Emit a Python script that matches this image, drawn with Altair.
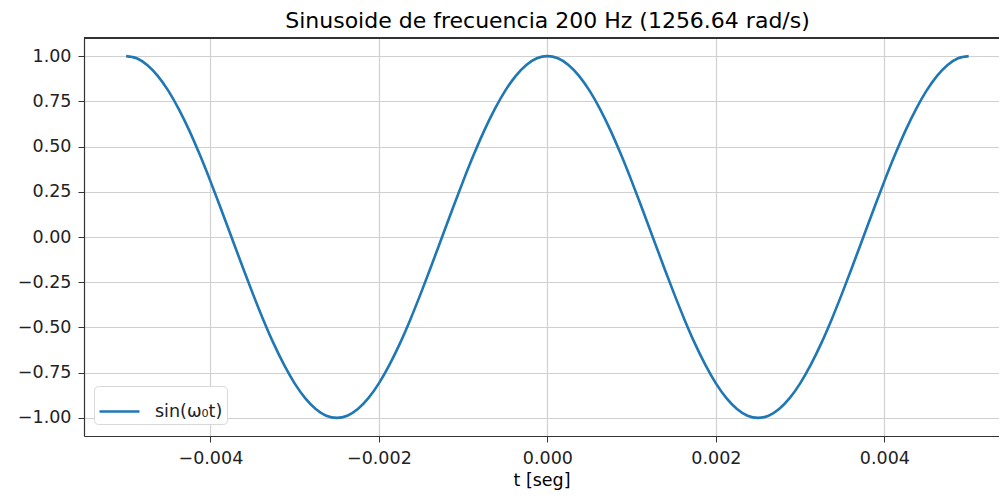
import altair as alt
import pandas as pd

# time samples [s] and values
t_values = [-0.005, -0.004875, -0.00475, -0.004625, -0.0045, -0.004375, -0.00425, -0.004125,
            -0.004, -0.003875, -0.00375, -0.003625, -0.0035, -0.003375, -0.00325, -0.003125,
            -0.003, -0.002875, -0.00275, -0.002625, -0.0025, -0.002375, -0.00225, -0.002125,
            -0.002, -0.001875, -0.00175, -0.001625, -0.0015, -0.001375, -0.00125, -0.001125,
            -0.001, -0.000875, -0.00075, -0.000625, -0.0005, -0.000375, -0.00025, -0.000125,
            0.0,
            0.000125, 0.00025, 0.000375, 0.0005, 0.000625, 0.00075, 0.000875, 0.001,
            0.001125, 0.00125, 0.001375, 0.0015, 0.001625, 0.00175, 0.001875, 0.002,
            0.002125, 0.00225, 0.002375, 0.0025, 0.002625, 0.00275, 0.002875, 0.003,
            0.003125, 0.00325, 0.003375, 0.0035, 0.003625, 0.00375, 0.003875, 0.004,
            0.004125, 0.00425, 0.004375, 0.0045, 0.004625, 0.00475, 0.004875, 0.005]
y_values = [1.000, 0.988, 0.951, 0.891, 0.809, 0.707, 0.588, 0.454, 0.309, 0.156,
            0.000, -0.156, -0.309, -0.454, -0.588, -0.707, -0.809, -0.891, -0.951, -0.988,
            -1.000,
            -0.988, -0.951, -0.891, -0.809, -0.707, -0.588, -0.454, -0.309, -0.156, 0.000,
            0.156, 0.309, 0.454, 0.588, 0.707, 0.809, 0.891, 0.951, 0.988, 1.000,
            0.988, 0.951, 0.891, 0.809, 0.707, 0.588, 0.454, 0.309, 0.156, 0.000,
            -0.156, -0.309, -0.454, -0.588, -0.707, -0.809, -0.891, -0.951, -0.988, -1.000,
            -0.988, -0.951, -0.891, -0.809, -0.707, -0.588, -0.454, -0.309, -0.156, 0.000,
            0.156, 0.309, 0.454, 0.588, 0.707, 0.809, 0.891, 0.951, 0.988, 1.000]
series_name = "sin(ω₀t)"
x_ticks = [-0.004, -0.002, 0.0, 0.002, 0.004]
y_ticks = [-1.0, -0.75, -0.5, -0.25, 0.0, 0.25, 0.5, 0.75, 1.0]

df = pd.DataFrame({"t": t_values, "y": y_values, "serie": [series_name] * len(t_values)})

FONT = "DejaVu Sans"
W, H = 915, 398

line = alt.Chart(df).mark_line(strokeWidth=2.6, interpolate="monotone").encode(
    x=alt.X("t:Q",
            scale=alt.Scale(domain=[-0.0055, 0.00536], nice=False, zero=False),
            axis=alt.Axis(values=x_ticks, format=".3f", title="t [seg]",
                          titleFontWeight="normal", titleFontSize=17.5, titleFont=FONT,
                          titleColor="#000000", titlePadding=5,
                          labelFontSize=17.5, labelFont=FONT, labelColor="#222222",
                          labelPadding=7, tickSize=6, tickColor="#333333",
                          domainColor="#333333", domainWidth=1.2,
                          grid=True, gridColor="#d0d0d0", gridWidth=1.2)),
    y=alt.Y("y:Q",
            scale=alt.Scale(domain=[-1.1, 1.1], nice=False, zero=False),
            axis=alt.Axis(values=y_ticks, format=".2f", title=None,
                          labelFontSize=17.5, labelFont=FONT, labelColor="#222222",
                          labelPadding=7, tickSize=6, tickColor="#333333",
                          domainColor="#333333", domainWidth=1.2,
                          grid=True, gridColor="#d0d0d0", gridWidth=1.2)),
    color=alt.Color("serie:N", scale=alt.Scale(range=["#1f77b4"]),
                    legend=alt.Legend(title=None, orient="none", legendX=10, legendY=348,
                                      symbolType="stroke", symbolSize=1600,
                                      symbolStrokeWidth=2.6, labelFontSize=17.5,
                                      labelFont=FONT, labelColor="#222222", labelOffset=14,
                                      padding=4, fillColor="#ffffff",
                                      strokeColor="#d9d9d9", cornerRadius=4)),
)

top_spine = alt.Chart(df).mark_rule(color="#333333", strokeWidth=1.2).encode(
    x=alt.value(0), x2=alt.value(W), y=alt.value(0)
)

chart = alt.layer(line, top_spine).properties(
    width=W, height=H,
    title=alt.Title("Sinusoide de frecuencia 200 Hz (1256.64 rad/s)", fontSize=22,
                    font=FONT, fontWeight="normal", color="#000000", offset=4, dx=6),
    autosize=alt.AutoSizeParams(type="none"),
    padding={"left": 76, "top": 30, "right": 0, "bottom": 57},
).configure_view(stroke=None).configure(background="#ffffff")

chart.save("out.html", embed_options={"renderer": "svg", "actions": False})
